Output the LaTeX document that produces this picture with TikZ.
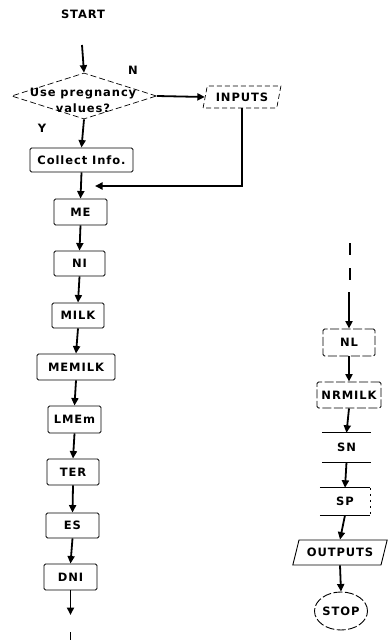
\documentclass[tikz,border=0pt]{standalone}
\usepackage{fontspec}
\setmainfont{DejaVu Sans}[LetterSpace=8]
\usetikzlibrary{shapes.geometric,arrows.meta}
\begin{document}
\begin{tikzpicture}[x=1pt,y=-1pt,
  lbl/.style={font=\bfseries\fontsize{11.5}{16}\selectfont, inner sep=0},
  box/.style={draw, line width=0.9pt, rounded corners=1.5pt, inner sep=0, minimum height=25pt, lbl},
  rbox/.style={box, dash pattern=on 9pt off 2.5pt},
  plain/.style={inner sep=0, lbl},
  arr/.style={line width=1.8pt, -{Triangle[length=7.5pt,width=7pt]}},
  tick/.style={line width=1.6pt}]
\useasboundingbox (0,0) rectangle (390,642);

% left column
\node[plain] (start) at (83,14) {START};
\coordinate (s0) at (82,45);
\node[diamond, draw, line width=0.7pt, dash pattern=on 6pt off 3pt, minimum width=145pt, minimum height=46pt, inner sep=0] (dec) at (84,96) {};
\node[plain, align=center] (dect) at (83,100) {Use pregnancy\\values?};
\node[trapezium, trapezium left angle=70, trapezium right angle=110, trapezium stretches=true,
      draw, line width=0.7pt, dash pattern=on 5pt off 3pt, minimum width=78pt, minimum height=22pt, inner sep=0, lbl] (inputs) at (242,97) {INPUTS};
\node[plain] (nlab) at (133,70) {N};
\node[plain] (ylab) at (42,128) {Y};

\node[box, minimum width=103pt, minimum height=24pt] (collect) at (81.5,160) {Collect Info.};
\coordinate (join) at (95,186);
\node[box, minimum width=53pt, minimum height=26pt] (me) at (80.5,212) {ME};
\node[box, minimum width=51pt] (ni) at (79.5,263.5) {NI};
\node[box, minimum width=52pt] (milk) at (78,315.5) {MILK};
\node[box, minimum width=78pt, minimum height=26pt] (memilk) at (76,367) {MEMILK};
\node[box, minimum width=53pt, minimum height=27pt] (lmem) at (74.5,419.5) {LMEm};
\node[box, minimum width=52pt, minimum height=26pt] (ter) at (73,472) {TER};
\node[box, minimum width=53pt] (es) at (72.5,525.5) {ES};
\node[box, minimum width=53pt, minimum height=26pt] (dni) at (70.5,577) {DNI};
\coordinate (lend) at (70.5,615);

\draw[arr] (s0) -- (dec.north);
\draw[arr] (dec.east) -- (inputs.west);
\draw[arr] (dec.south) -- (collect.north);
\draw[arr] (inputs.south) |- (join);
\draw[arr] (collect.south) -- (me.north);
\draw[arr] (me.south) -- (ni.north);
\draw[arr] (ni.south) -- (milk.north);
\draw[arr] (milk.south) -- (memilk.north);
\draw[arr] (memilk.south) -- (lmem.north);
\draw[arr] (lmem.south) -- (ter.north);
\draw[arr] (ter.south) -- (es.north);
\draw[arr] (es.south) -- (dni.north);
\draw[arr] (dni.south) -- (lend);
\draw[tick] (70.5,632) -- (70.5,640);

% right column
\draw[tick] (350,243) -- (350,255);
\draw[tick] (350,268) -- (350,280);
\coordinate (rtop) at (349,292);
\node[rbox, minimum width=52pt, minimum height=27pt] (nl) at (349,342.5) {NL};
\node[rbox, minimum width=64pt, minimum height=26pt] (nrmilk) at (349,395) {NRMILK};
\node[plain, minimum width=49pt, minimum height=29pt] (sn) at (346.5,447.5) {SN};
\node[plain, minimum width=50pt, minimum height=27pt] (sp) at (345,501.5) {SP};
\draw[line width=0.9pt] (sn.north west) -- (sn.north east) (sn.south west) -- (sn.south east);
\draw[line width=0.9pt] (sp.north west) -- (sp.north east) (sp.south west) -- (sp.south east);
\draw[line width=0.6pt, dash pattern=on 2pt off 4pt] (sp.north east) -- (sp.south east);
\node[trapezium, trapezium left angle=60, trapezium right angle=120, trapezium stretches=true,
      draw, line width=0.9pt, minimum width=95pt, minimum height=25pt, inner sep=0, lbl] (outputs) at (340,552.5) {OUTPUTS};
\node[ellipse, draw, line width=0.9pt, dash pattern=on 9pt off 2.5pt, minimum width=53pt, minimum height=38pt, inner sep=0, lbl] (stop) at (341,611) {STOP};

\draw[arr] (rtop) -- (nl.north);
\draw[arr] (nl.south) -- (nrmilk.north);
\draw[arr] (nrmilk.south) -- (sn.north);
\draw[arr] (sn.south) -- (sp.north);
\draw[arr] (sp.south) -- (outputs.north);
\draw[arr] (outputs.south) -- (stop.north);
\end{tikzpicture}
\end{document}
